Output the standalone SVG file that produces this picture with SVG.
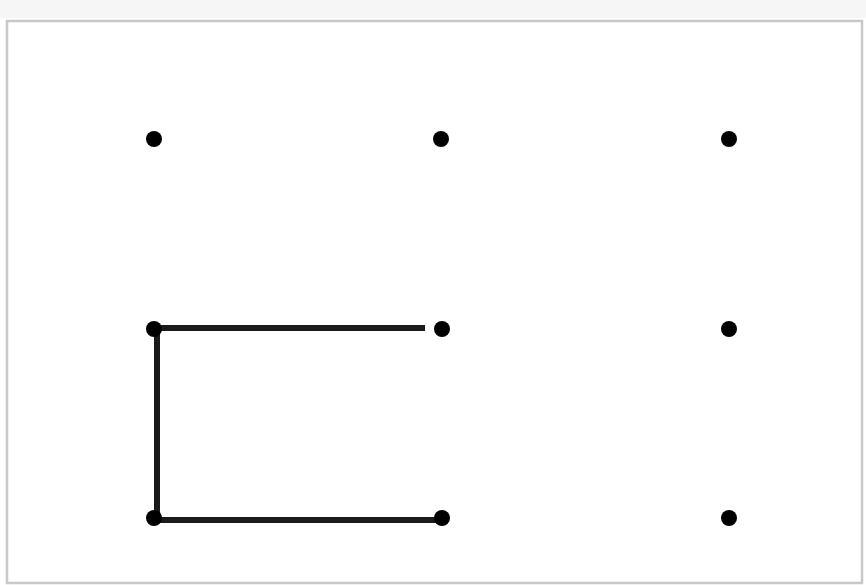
<svg xmlns="http://www.w3.org/2000/svg" width="866" height="585" viewBox="0 0 866 585">
<style>
.dot{fill:#000}
.edge{stroke:#1a1a1a;stroke-width:6;fill:none;stroke-linecap:butt}
</style>
<rect x="0" y="0" width="866" height="585" fill="#fff"/>
<rect x="0" y="0" width="866" height="18" fill="#f6f6f6"/>
<rect x="7" y="21" width="855" height="562" fill="#fff" stroke="#c8c8c8" stroke-width="2.5"/>
<g id="connectors">
<line class="edge" x1="153" y1="328" x2="425" y2="328"/>
<line class="edge" x1="157" y1="328" x2="157" y2="519"/>
<line class="edge" x1="153" y1="520" x2="440" y2="520"/>
</g>
<g id="n1"><circle class="dot" cx="154" cy="139" r="8"/></g>
<g id="n2"><circle class="dot" cx="441" cy="139" r="8"/></g>
<g id="n3"><circle class="dot" cx="729" cy="139" r="8"/></g>
<g id="n4"><circle class="dot" cx="154" cy="329" r="8"/></g>
<g id="n5"><circle class="dot" cx="442" cy="329" r="8"/></g>
<g id="n6"><circle class="dot" cx="729" cy="329" r="8"/></g>
<g id="n7"><circle class="dot" cx="154" cy="518" r="8"/></g>
<g id="n8"><circle class="dot" cx="442" cy="518" r="8"/></g>
<g id="n9"><circle class="dot" cx="729" cy="518" r="8"/></g>
</svg>
